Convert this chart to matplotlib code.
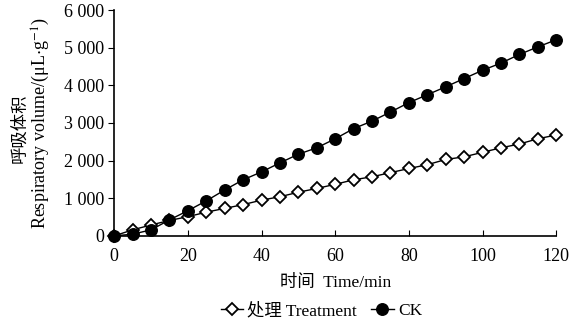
import matplotlib
matplotlib.use("Agg")
import matplotlib.pyplot as plt
from matplotlib.ticker import FuncFormatter

time_min = [0, 5, 10, 15, 20, 25, 30, 35, 40, 45, 50, 55, 60, 65, 70, 75, 80, 85, 90, 95, 100, 105, 110, 115, 120]
treatment = [0, 160, 290, 410, 510, 630, 730, 830, 950, 1040, 1160, 1260, 1370, 1490, 1570, 1680,
             1790, 1890, 2030, 2100, 2220, 2340, 2440, 2580, 2680]
ck = [0, 45, 160, 425, 670, 930, 1220, 1490, 1700, 1940, 2170, 2340, 2580, 2850, 3050, 3290,
      3540, 3750, 3960, 4180, 4400, 4590, 4820, 5020, 5210]

plt.rcParams.update({"font.family": ["Liberation Serif", "Noto Sans CJK SC"],
                     "mathtext.fontset": "stix", "font.size": 13})

fig = plt.figure(figsize=(5.74, 3.24), dpi=100)
ax = fig.add_axes([0.199, 0.272, 0.770, 0.697])
ax.plot(time_min, treatment, color="black", lw=1, marker="D", ms=6, mfc="white", mec="black",
        mew=1.3, label="处理 Treatment")
ax.plot(time_min, ck, color="black", lw=1, marker="o", ms=8.3, mfc="black", mec="black",
        label="CK")
ax.set_xlim(0, 120)
ax.set_ylim(0, 6000)
ax.set_xticks(range(0, 121, 20))
ax.set_yticks(range(0, 6001, 1000))
ax.yaxis.set_major_formatter(FuncFormatter(lambda v, p: f"{int(v):,}".replace(",", " ")))
ax.tick_params(axis="x", direction="in", length=4, pad=9)
ax.tick_params(axis="y", direction="out", length=4, pad=3)
for s in ["top", "right"]:
    ax.spines[s].set_visible(False)
ax.spines["left"].set_linewidth(1.2)
ax.spines["bottom"].set_linewidth(1.2)
for ln in ax.lines:
    ln.set_clip_on(False)

ax.set_xlabel("时间  Time/min", fontsize=12.5, labelpad=7)
fig.text(0.035, 0.605, "呼吸体积", rotation=90, ha="center", va="center", fontsize=12.5)
fig.text(0.072, 0.62, r"Respiratory volume/(μL$\cdot$g$^{-1}$)", rotation=90,
         ha="center", va="center", fontsize=13)
fig.legend(loc="center", bbox_to_anchor=(0.56, 0.04), ncol=2, frameon=False, fontsize=12.5,
           handlelength=1.3, columnspacing=0.8, handletextpad=0.25, borderpad=0)
fig.savefig("out.png", dpi=100)
